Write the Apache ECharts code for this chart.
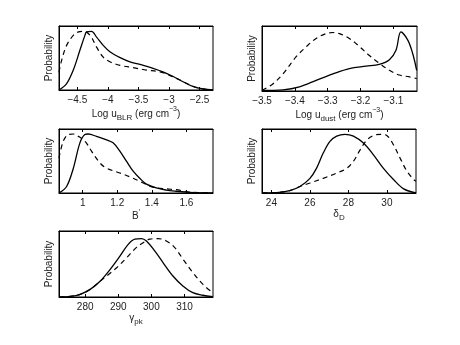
<!DOCTYPE html>
<html>
<head>
<meta charset="utf-8">
<script src="https://cdn.jsdelivr.net/npm/echarts@6/dist/echarts.min.js"></script>
<style>
html,body{margin:0;padding:0;background:#fff;}
#chart{width:460px;height:345px;}
</style>
</head>
<body>
<div id="chart"></div>
<script>
// posterior curves (x, probability normalised to peak)
var uBlrSolid = [[-4.8,0],[-4.675,0.11],[-4.566,0.34],[-4.457,0.68],[-4.376,0.93],[-4.35,0.99],[-4.267,1.0],[-4.185,0.9],[-4.076,0.76],[-3.967,0.65],[-3.8,0.55],[-3.64,0.48],[-3.42,0.42],[-3.26,0.37],[-3.1,0.31],[-2.93,0.23],[-2.77,0.14],[-2.6,0.056],[-2.44,0.017],[-2.28,0]];
var uBlrDash = [[-4.8,0.3],[-4.756,0.51],[-4.675,0.76],[-4.566,0.93],[-4.48,0.99],[-4.4,1.0],[-4.29,0.93],[-4.185,0.73],[-4.076,0.56],[-3.967,0.48],[-3.8,0.42],[-3.586,0.38],[-3.37,0.34],[-3.15,0.31],[-2.99,0.25],[-2.82,0.17],[-2.6,0.06],[-2.39,0.01],[-2.28,0]];
var uDustSolid = [[-3.5,0.01],[-3.436,0.02],[-3.386,0.07],[-3.335,0.18],[-3.284,0.29],[-3.234,0.38],[-3.183,0.42],[-3.143,0.45],[-3.112,0.53],[-3.092,0.69],[-3.077,1.0],[-3.056,0.86],[-3.041,0.63],[-3.029,0.35]];
var uDustDash = [[-3.5,0.01],[-3.467,0.12],[-3.436,0.29],[-3.396,0.58],[-3.365,0.75],[-3.335,0.89],[-3.305,0.97],[-3.284,0.99],[-3.264,0.97],[-3.234,0.89],[-3.203,0.75],[-3.173,0.6],[-3.143,0.47],[-3.112,0.35],[-3.082,0.27],[-3.051,0.24],[-3.029,0.21]];
var bSolid = [[0.863,0],[0.907,0.11],[0.946,0.42],[0.984,0.85],[1.013,0.99],[1.032,1.0],[1.08,0.96],[1.138,0.9],[1.176,0.85],[1.215,0.71],[1.253,0.54],[1.292,0.37],[1.33,0.25],[1.369,0.15],[1.426,0.085],[1.484,0.05],[1.542,0.03],[1.619,0.01],[1.754,0]];
var bDash = [[0.863,0.59],[0.888,0.88],[0.917,0.99],[0.946,1.0],[0.975,0.96],[1.013,0.88],[1.051,0.71],[1.1,0.51],[1.138,0.42],[1.215,0.34],[1.292,0.25],[1.35,0.17],[1.407,0.1],[1.484,0.07],[1.542,0.056],[1.619,0.017],[1.754,0]];
var deltaSolid = [[23.51,0],[24.26,0.006],[24.95,0.04],[25.48,0.11],[26.0,0.25],[26.34,0.42],[26.69,0.68],[27.04,0.88],[27.39,0.97],[27.82,1.0],[28.26,0.97],[28.78,0.85],[29.3,0.65],[29.82,0.42],[30.34,0.23],[30.87,0.07],[31.51,0]];
var deltaDash = [[23.51,0],[24.26,0.006],[24.95,0.04],[25.48,0.11],[26.0,0.17],[26.69,0.25],[27.39,0.34],[27.91,0.42],[28.26,0.54],[28.6,0.73],[28.95,0.9],[29.3,0.98],[29.65,1.0],[29.99,0.98],[30.34,0.82],[30.69,0.59],[31.04,0.37],[31.39,0.23],[31.51,0.2]];
var gammaSolid = [[272.3,0],[275.5,0.01],[278.5,0.046],[281.5,0.13],[284.5,0.27],[287.5,0.47],[290.5,0.7],[293,0.9],[295,0.99],[297,1.0],[298.5,0.96],[301,0.79],[303.5,0.59],[306.5,0.36],[309.5,0.19],[312.5,0.074],[315.5,0.03],[318.5,0.006]];
var gammaDash = [[272.3,0],[275.5,0.01],[278.5,0.046],[281.5,0.13],[284.5,0.27],[286.5,0.36],[289.5,0.5],[292.5,0.67],[295.5,0.85],[297.5,0.93],[299.5,0.99],[302,1.0],[304.5,0.96],[307,0.85],[309.5,0.65],[312.5,0.42],[315.5,0.22],[318.5,0.074]];

var xLimits = [[-4.8,-2.28],[-3.5,-3.028],[0.863,1.754],[23.51,31.51],[272.1,318.6]];
var xTicks = [
	[-4.5, -4, -3.5, -3, -2.5],
	[-3.5, -3.4, -3.3, -3.2, -3.1],
	[1, 1.2, 1.4, 1.6],
	[24, 26, 28, 30],
	[280, 290, 300, 310]
];
var xNames = ['Log u{sub|BLR} (erg cm{sup|−3})', 'Log u{sub|dust} (erg cm{sup|−3})', 'B{sup|′}', 'δ{sub|D}', 'γ{sub|pk}'];
var yMax = [1.09, 1.1, 1.085, 1.09, 1.13];
var solidSets = [uBlrSolid, uDustSolid, bSolid, deltaSolid, gammaSolid];
var dashSets = [uBlrDash, uDustDash, bDash, deltaDash, gammaDash];

var boxes = [
	{left:59, top:26, width:154, height:64},
	{left:262, top:26, width:155, height:65},
	{left:59, top:129, width:154, height:64},
	{left:262, top:129, width:154, height:64},
	{left:59, top:231, width:154, height:66}
];

var font = 'Liberation Sans, Arial, sans-serif';
var richStyles = {
	sub: {fontSize:8, fontFamily:font, color:'#222', verticalAlign:'bottom', padding:[8,0,0,0]},
	sup: {fontSize:7, fontFamily:font, color:'#222', verticalAlign:'top', padding:[0,0,8,0]}
};

var grids = [], xAxes = [], yAxes = [], series = [];
for (var i = 0; i < boxes.length; i++) {
	grids.push({left:boxes[i].left, top:boxes[i].top, width:boxes[i].width, height:boxes[i].height,
		show:true, borderColor:'#000', borderWidth:1, backgroundColor:'#fff', containLabel:false});
	var lim = xLimits[i];
	// bottom axis with labels
	xAxes.push({
		gridIndex:i, type:'value', min:lim[0], max:lim[1],
		position:'bottom',
		axisLine:{show:true, lineStyle:{color:'#000', width:1}},
		axisTick:{show:true, inside:true, length:3, lineStyle:{color:'#000'}, customValues:xTicks[i]},
		splitLine:{show:false},
		axisLabel:{show:true, fontSize:10, fontFamily:font, color:'#222', margin:5,
			customValues:xTicks[i],
			formatter:function (v) { return String(Math.round(v*1000)/1000).replace('-', '−'); }},
		name:xNames[i], nameLocation:'middle', nameGap:13,
		nameTextStyle:{fontSize:10, fontFamily:font, color:'#222', rich:richStyles}
	});
	// top axis, ticks only
	xAxes.push({
		gridIndex:i, type:'value', min:lim[0], max:lim[1], position:'top',
		axisLine:{show:true, lineStyle:{color:'#000', width:1}},
		axisTick:{show:true, inside:true, length:3, lineStyle:{color:'#000'}, customValues:xTicks[i]},
		axisLabel:{show:false, customValues:xTicks[i]}, splitLine:{show:false}
	});
	yAxes.push({
		gridIndex:i, type:'value', min:0, max:yMax[i],
		axisLine:{show:true, lineStyle:{color:'#000'}}, axisTick:{show:false},
		axisLabel:{show:false}, splitLine:{show:false},
		name:'Probability', nameLocation:'middle', nameGap:5, nameRotate:90,
		nameTextStyle:{fontSize:10, fontFamily:font, color:'#222'}
	});
	series.push({
		type:'line', xAxisIndex:2*i, yAxisIndex:i, data:solidSets[i], smooth:0.35,
		showSymbol:false, symbol:'none', lineStyle:{color:'#000', width:1.3}, z:3, silent:true
	});
	series.push({
		type:'line', xAxisIndex:2*i, yAxisIndex:i, data:dashSets[i], smooth:0.35,
		showSymbol:false, symbol:'none', lineStyle:{color:'#000', width:1.2, type:[5,4]}, z:2, silent:true
	});
}

var chart = echarts.init(document.getElementById('chart'));
chart.setOption({
	animation:false,
	backgroundColor:'#fff',
	grid:grids, xAxis:xAxes, yAxis:yAxes, series:series
});
</script>
</body>
</html>
